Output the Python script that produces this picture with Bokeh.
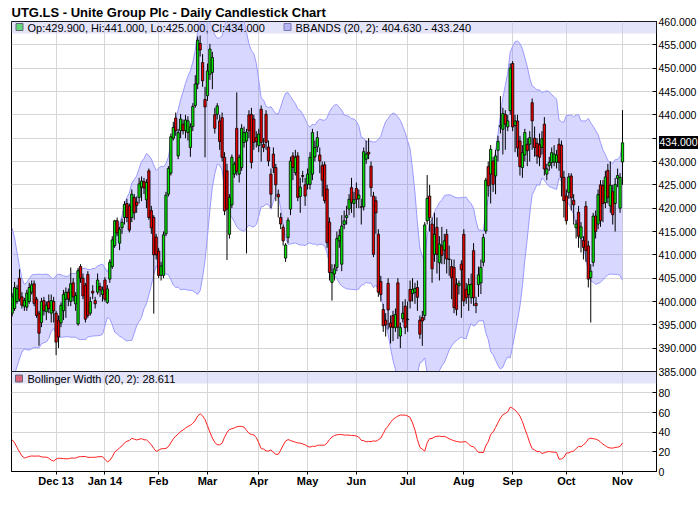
import numpy as np
from bokeh.plotting import figure
from bokeh.layouts import column
from bokeh.models import (Range1d, LinearAxis, FixedTicker, Grid, BoxAnnotation,
                          Label, ColumnDataSource, NumeralTickFormatter, Div)
from bokeh.embed import file_html
from bokeh.resources import INLINE

# ---------------- data ----------------
title_text = "UTG.LS - Unite Group Plc - Daily Candlestick Chart"
month_labels = ["Dec 13", "Jan 14", "Feb", "Mar", "Apr", "May", "Jun", "Jul", "Aug", "Sep", "Oct", "Nov"]
month_start = [0, 20, 42, 62, 83, 103, 123, 144, 167, 187, 209, 232]   # trading-day index
first_index = -18
price_ticks = [385, 390, 395, 400, 405, 410, 415, 420, 425, 430, 435, 440, 445, 450, 455, 460]
width_ticks = [0, 20, 40, 60, 80]
bb_period, bb_mult = 20, 2
bb_last_lower, bb_last_upper, bbw_last = 404.630, 433.240, 28.611

# closes of the 19 sessions before the first visible candle (feed the first bands)
prior_closes = [415, 417, 414, 411, 406, 399, 396, 393, 395, 397, 394, 392, 395, 397, 393, 391, 394, 397, 395]

opens = [
    # Nov 13
    397.5, 398.5, 400.0, 405.0, 401.0, 399.0, 398.8, 400.0, 402.0, 403.8, 400.5, 397.5, 395.5, 400.2, 397.8, 400.0, 397.5, 400.0,
    # Dec
    397.5, 396.0, 395.4, 398.0, 400.5, 402.0, 400.0, 404.0, 399.5, 395.2, 407.5, 405.0, 403.5, 405.8, 397.5, 402.2, 400.2, 402.0, 403.2, 401.5,
    # Jan
    404.6, 399.8, 404.8, 407.5, 412.0, 417.3, 412.5, 415.8, 418.0, 421.0, 420.5, 418.0, 422.3, 421.3, 422.3, 424.5, 425.7, 421.8, 428.0, 419.5, 418.0, 413.8,
    # Feb
    410.8, 405.6, 405.6, 414.5, 423.0, 427.5, 435.0, 439.3, 431.2, 436.6, 438.0, 436.6, 436.2, 433.0, 437.5, 442.0, 446.6, 455.3, 451.2, 443.3,
    # Mar
    444.1, 448.7, 449.1, 440.0, 440.1, 438.7, 439.4, 430.9, 428.0, 414.4, 420.7, 427.3, 437.1, 427.3, 428.7, 434.1, 434.4, 440.0, 440.1, 439.1, 435.1,
    # Apr
    433.4, 441.2, 433.7, 440.1, 433.1, 427.3, 431.6, 428.7, 423.0, 418.0, 415.9, 409.3, 413.7, 419.8, 431.2, 427.6, 431.2, 422.5, 427.0, 425.0,
    # May
    425.1, 425.1, 427.3, 431.0, 433.1, 431.4, 429.1, 429.3, 424.1, 417.0, 404.1, 405.9, 407.3, 413.0, 408.0, 416.5, 418.0, 419.8, 424.4, 421.0,
    # Jun
    424.2, 422.0, 420.3, 420.3, 430.5, 432.0, 429.0, 422.6, 421.6, 414.4, 404.3, 398.3, 396.0, 403.9, 395.4, 397.0, 394.4, 404.0, 392.6, 396.3, 399.0,
    # Jul
    396.2, 402.6, 401.7, 401.9, 403.0, 396.0, 396.6, 397.0, 417.3, 422.6, 416.6, 410.1, 415.9, 408.3, 411.9, 411.0, 414.4, 409.1, 407.5, 407.3, 403.7, 403.4, 408.0,
    # Aug
    414.4, 402.6, 401.5, 400.8, 410.9, 399.6, 403.6, 404.0, 408.4, 415.1, 428.9, 427.3, 430.1, 426.9, 432.4, 437.4, 436.9, 440.1, 437.4, 440.9,
    # Sep
    451.0, 437.7, 438.7, 434.4, 428.7, 431.4, 433.7, 433.7, 442.6, 435.0, 433.9, 433.6, 433.0, 438.0, 427.3, 429.1, 429.8, 429.9, 429.8, 433.7, 433.5, 426.6,
    # Oct
    422.6, 423.4, 426.9, 421.7, 415.8, 419.1, 413.6, 413.1, 420.4, 411.9, 405.1, 408.4, 418.3, 416.6, 425.0, 424.9, 421.2, 428.1, 420.5, 423.5, 421.0, 426.4, 420.0,
    # Nov
    429.9,
]
highs = [
    401.8, 404.2, 403.5, 406.9, 402.0, 400.8, 402.5, 404.0, 404.5, 404.5, 401.0, 398.0, 400.8, 401.0, 400.0, 401.5, 401.5, 401.0,
    398.0, 397.0, 399.8, 402.5, 403.0, 402.8, 407.3, 405.0, 402.0, 407.2, 408.0, 406.0, 404.0, 406.5, 401.0, 403.5, 401.0, 406.0, 404.0, 403.2,
    405.2, 403.5, 409.0, 414.0, 417.5, 418.0, 416.0, 417.8, 421.5, 422.0, 421.0, 424.0, 423.0, 422.5, 426.5, 426.8, 426.5, 426.2, 428.5, 420.5, 418.5, 414.5,
    411.5, 408.5, 415.0, 423.5, 429.0, 436.0, 438.5, 440.5, 437.0, 440.2, 439.0, 440.0, 439.7, 438.2, 442.5, 448.5, 456.8, 457.0, 453.0, 446.0,
    451.0, 455.2, 453.5, 441.5, 442.5, 440.0, 440.5, 432.0, 429.5, 423.0, 431.5, 430.0, 444.8, 431.5, 438.0, 437.5, 437.0, 441.0, 441.5, 440.0, 436.5,
    437.0, 442.0, 435.0, 441.0, 434.5, 428.5, 433.0, 429.5, 424.0, 419.0, 416.5, 412.5, 418.0, 431.0, 432.0, 432.5, 432.0, 426.5, 428.0, 426.5,
    428.5, 432.0, 437.0, 434.5, 436.5, 433.0, 430.0, 430.0, 425.0, 418.0, 408.0, 408.0, 415.0, 415.5, 418.5, 419.5, 420.5, 423.0, 426.5, 423.5,
    425.5, 424.0, 422.0, 433.0, 434.5, 435.0, 430.0, 423.5, 422.5, 415.5, 405.5, 399.5, 397.5, 405.0, 397.0, 398.0, 398.5, 405.0, 395.5, 400.0, 400.5,
    400.0, 404.5, 405.0, 404.0, 404.5, 397.0, 398.0, 417.0, 427.1, 425.0, 418.0, 419.0, 418.0, 414.0, 416.0, 414.5, 415.5, 412.0, 409.0, 409.0, 405.0, 404.5, 408.8,
    415.5, 404.0, 405.0, 406.0, 412.5, 401.0, 407.5, 409.0, 414.5, 426.5, 430.0, 433.5, 431.0, 432.5, 435.5, 444.0, 441.5, 441.0, 440.0, 451.0,
    451.5, 440.0, 440.0, 435.5, 433.5, 437.0, 435.0, 436.5, 443.5, 437.5, 435.0, 436.0, 436.5, 439.5, 429.5, 431.0, 433.0, 433.5, 432.5, 435.0, 434.5, 428.0,
    424.0, 427.5, 427.5, 423.0, 417.5, 420.5, 417.0, 414.0, 421.5, 413.0, 408.0, 419.0, 419.5, 424.0, 426.0, 426.0, 428.0, 429.5, 430.0, 425.0, 426.5, 428.5, 427.5,
    441.0,
]
lows = [
    396.8, 398.0, 399.5, 400.0, 398.5, 398.0, 398.0, 399.5, 401.5, 399.0, 396.5, 390.5, 394.5, 397.0, 396.0, 397.5, 395.5, 395.5,
    388.5, 390.0, 394.5, 396.0, 396.5, 399.0, 399.0, 400.0, 398.0, 394.8, 404.0, 400.5, 395.5, 396.5, 397.0, 400.5, 398.5, 401.5, 401.0, 400.0,
    400.0, 399.5, 404.0, 407.0, 411.5, 414.0, 411.0, 414.5, 416.5, 417.0, 414.8, 417.0, 417.5, 419.0, 421.0, 421.5, 423.0, 420.0, 417.5, 414.5, 397.4, 409.0,
    405.0, 404.5, 405.0, 414.0, 422.5, 427.0, 434.5, 435.5, 430.5, 435.0, 435.8, 435.0, 434.5, 431.0, 436.5, 441.5, 445.5, 452.5, 446.0, 430.9,
    443.0, 447.5, 445.5, 436.0, 439.0, 432.5, 430.0, 418.5, 408.9, 413.5, 420.0, 426.5, 427.0, 425.5, 428.0, 433.0, 410.3, 435.0, 428.5, 432.5, 433.0,
    432.0, 430.0, 432.0, 432.5, 429.0, 420.0, 427.5, 421.5, 418.0, 415.5, 412.0, 408.5, 412.5, 418.5, 426.0, 427.0, 421.5, 419.0, 425.5, 420.5,
    424.0, 424.0, 426.0, 430.0, 432.0, 427.5, 422.5, 421.0, 411.5, 404.5, 400.2, 404.5, 406.5, 411.5, 406.5, 415.5, 416.5, 418.5, 419.0, 418.0,
    420.0, 420.0, 416.5, 419.5, 429.5, 430.5, 422.5, 409.5, 414.5, 401.0, 400.0, 393.5, 392.5, 394.0, 391.0, 391.5, 393.5, 392.0, 390.0, 395.5, 393.0,
    393.5, 398.5, 400.0, 399.5, 398.0, 392.0, 390.5, 396.0, 416.5, 415.0, 404.0, 408.5, 406.0, 404.5, 408.0, 408.0, 406.0, 405.5, 400.5, 397.5, 397.0, 401.5, 396.5,
    399.0, 399.5, 398.0, 399.5, 399.0, 397.5, 401.0, 401.6, 407.5, 414.5, 422.5, 421.0, 423.5, 423.0, 430.0, 436.0, 431.5, 432.5, 436.5, 440.0,
    436.5, 432.0, 431.0, 427.0, 426.5, 430.0, 429.0, 430.0, 432.5, 431.0, 429.5, 429.0, 431.5, 427.0, 426.0, 428.0, 428.5, 429.0, 428.5, 428.0, 422.5, 418.0,
    416.5, 422.0, 419.5, 416.5, 413.5, 411.5, 410.5, 409.0, 408.5, 403.0, 395.5, 407.5, 413.5, 415.5, 416.0, 417.0, 420.0, 421.0, 419.0, 416.5, 415.0, 424.5, 419.0,
    425.0,
]
closes = [
    401.0, 403.0, 402.8, 400.5, 399.2, 400.2, 401.8, 403.0, 403.6, 399.6, 397.0, 393.2, 400.0, 398.0, 399.2, 398.5, 400.2, 398.0,
    391.3, 392.4, 399.2, 401.5, 402.0, 400.5, 403.8, 401.0, 401.3, 406.6, 405.0, 401.2, 396.2, 397.0, 400.0, 401.8, 399.5, 404.6, 402.5, 402.5,
    400.5, 402.7, 408.4, 413.2, 417.3, 414.7, 415.5, 417.0, 420.8, 418.0, 415.3, 423.0, 419.0, 420.6, 425.2, 425.8, 424.3, 425.5, 418.0, 415.8, 410.0, 410.0,
    405.6, 407.6, 414.3, 422.8, 428.5, 435.3, 437.3, 436.6, 436.2, 439.1, 436.6, 438.9, 438.7, 437.4, 441.8, 446.6, 456.0, 453.9, 447.3, 441.7,
    449.4, 454.1, 452.3, 437.1, 441.9, 434.3, 430.9, 419.4, 419.8, 422.3, 430.9, 429.4, 427.9, 430.9, 437.1, 436.2, 436.3, 436.6, 429.8, 434.1, 434.3,
    435.9, 434.1, 433.0, 434.1, 430.1, 423.0, 428.7, 425.0, 422.4, 416.6, 413.0, 412.1, 417.4, 430.1, 428.7, 430.9, 422.3, 424.5, 426.8, 422.6,
    427.3, 430.9, 436.2, 433.0, 435.1, 430.1, 426.0, 421.6, 412.6, 406.2, 406.2, 407.0, 413.5, 414.1, 416.2, 417.3, 418.4, 421.9, 421.2, 421.8,
    421.9, 422.8, 420.2, 432.1, 431.6, 431.6, 424.4, 410.1, 419.0, 402.0, 401.5, 394.8, 395.0, 398.2, 394.5, 394.4, 397.2, 394.5, 394.4, 397.5, 394.4,
    396.1, 400.1, 402.6, 402.8, 400.9, 393.0, 395.8, 416.4, 422.1, 418.0, 407.0, 414.4, 410.1, 412.3, 409.9, 413.0, 409.1, 409.0, 405.1, 398.7, 398.3, 403.9, 406.8,
    400.1, 400.8, 403.6, 403.7, 400.8, 399.1, 405.7, 407.3, 413.7, 426.0, 424.8, 432.6, 425.1, 431.2, 434.3, 437.7, 440.3, 438.0, 438.7, 450.0,
    437.4, 438.7, 432.9, 428.9, 431.9, 436.2, 432.3, 435.1, 438.7, 433.0, 431.2, 430.9, 434.9, 428.4, 428.4, 429.8, 431.9, 431.6, 431.4, 429.8, 426.6, 421.6,
    417.3, 426.7, 422.2, 420.7, 416.6, 414.0, 416.0, 411.6, 410.9, 404.8, 406.5, 418.3, 415.0, 422.9, 417.3, 421.0, 426.7, 422.3, 424.9, 418.6, 425.1, 427.0, 426.6,
    434.0,
]

# ---------------- derived series ----------------
n = len(closes)
idx = np.arange(first_index, first_index + n)
allc = np.array(prior_closes + closes, dtype=float)
upper, lower = [], []
for k in range(len(prior_closes), len(allc)):
    w = allc[k - bb_period + 1:k + 1]
    m, s = w.mean(), w.std()
    upper.append(m + bb_mult * s); lower.append(m - bb_mult * s)
upper = np.array(upper); lower = np.array(lower)
bbw = upper - lower

o = np.array(opens); c = np.array(closes)
GREEN, RED = "#00e600", "#ee0000"
src = ColumnDataSource(dict(
    x=idx, high=highs, low=lows,
    top=np.maximum(o, c), bottom=np.minimum(o, c),
    color=[GREEN if cc >= oo else RED for oo, cc in zip(opens, closes)],
))
band = ColumnDataSource(dict(x=idx, up=upper, lo=lower, w=bbw))

# ---------------- geometry (page pixels -> data) ----------------
FONT = "Liberation Sans"
LEFT, TOP = 11, 21              # frame origin on the page
FW, FH, FH2 = 645, 350, 100
X0, X1 = -18.27, 245.93
PPX = FW / (X1 - X0)
PY0, PY1 = 385, 460
PPY = FH / (PY1 - PY0)
W0, W1 = 0, 101.7
PPW = FH2 / (W1 - W0)
def sx(px): return X0 + (px - LEFT) / PPX
def sy(py): return PY1 - (py - TOP) / PPY
def sw(py): return W1 - (py - (TOP + FH)) / PPW

GRID = "#d6d6d6"
LAV = "#c8c8f6"
xr = Range1d(X0, X1)
OVER = 8   # main canvas spills this much under the lower panel (for the 385.000 label)

# ---------------- main panel ----------------
p = figure(frame_width=FW, frame_height=FH, x_range=xr, y_range=Range1d(PY0, PY1),
           output_backend="svg", toolbar_location=None, title=title_text,
           x_axis_location=None, y_axis_location=None,
           min_border_left=LEFT, min_border_right=44, min_border_top=TOP, min_border_bottom=OVER)
p.title.align = "left"
p.title.vertical_align = "top"
p.title.text_font = FONT
p.title.text_font_size = "13px"
p.title.text_font_style = "bold"
p.title.text_color = "black"
p.title.standoff = 0
p.title.offset = 0
p.xgrid.visible = False
p.ygrid.visible = False
p.outline_line_color = "black"
p.outline_line_width = 1
p.add_layout(Grid(dimension=0, ticker=FixedTicker(ticks=month_start), grid_line_color=GRID))
p.add_layout(Grid(dimension=1, ticker=FixedTicker(ticks=price_ticks), grid_line_color=GRID))

p.varea(x="x", y1="lo", y2="up", source=band, fill_color="#6060ff", fill_alpha=0.25)
p.line(x="x", y="up", source=band, line_color="#9a9aff", line_width=1)
p.line(x="x", y="lo", source=band, line_color="#9a9aff", line_width=1)
p.segment(x0="x", y0="low", x1="x", y1="high", source=src, line_color="black", line_width=1)
p.vbar(x="x", top="top", bottom="bottom", width=0.95, source=src,
       fill_color="color", line_color="black", line_width=0.8)

ax = LinearAxis(ticker=FixedTicker(ticks=price_ticks), formatter=NumeralTickFormatter(format="0.000"))
ax.major_label_overrides = {435: ""}
ax.major_tick_in = 4; ax.major_tick_out = 0
ax.minor_tick_in = 0; ax.minor_tick_out = 0
ax.major_label_standoff = 2
ax.axis_line_color = "black"; ax.major_tick_line_color = "black"
ax.major_label_text_font = FONT; ax.major_label_text_font_size = "10.5px"
ax.major_label_text_color = "black"
p.add_layout(ax, "right")

# legend band + texts
p.add_layout(BoxAnnotation(top=PY1, bottom=sy(33), fill_color=LAV, fill_alpha=0.5, line_color=None))
p.scatter(x=[sx(19)], y=[sy(26.5)], size=7, marker="square", fill_color=GREEN, line_color="black")
p.scatter(x=[sx(287)], y=[sy(26.5)], size=7, marker="square", fill_color="#a0a0f4", line_color="#303070")
ohlc_text = "Op:%.3f, Hi:%.3f, Lo:%.3f, Cl:%.3f" % (opens[-1], highs[-1], lows[-1], closes[-1])
bb_text = "BBANDS (%d, %d): %.3f - %.3f" % (bb_period, bb_mult, bb_last_lower, bb_last_upper)
for xx, t in [(sx(27), ohlc_text), (sx(295), bb_text)]:
    p.add_layout(Label(x=xx, y=sy(27), text=t, text_font=FONT, text_font_size="11px",
                       text_baseline="middle", text_align="left", text_color="black"))

# ---------------- last-close marker on the price axis ----------------
HL_TOP, HL_LEFT, HL_W, HL_H = 136, 659, 39, 13
hl = Div(text="%.3f" % closes[-1], width=HL_W, height=HL_H,
         styles={"background-color": "black", "color": "white", "font-family": FONT,
                 "font-size": "10.5px", "line-height": "%dpx" % HL_H, "text-align": "center",
                 "overflow": "hidden", "white-space": "nowrap"})
main_h = TOP + FH + OVER
hl.margin = (HL_TOP - main_h, 0, main_h - HL_TOP - HL_H, HL_LEFT)

# ---------------- lower panel ----------------
p2 = figure(frame_width=FW, frame_height=FH2, x_range=xr, y_range=Range1d(W0, W1),
            output_backend="svg", toolbar_location=None,
            x_axis_location=None, y_axis_location=None,
            min_border_left=LEFT, min_border_right=44, min_border_top=0, min_border_bottom=28)
p2.border_fill_color = None
p2.margin = (-OVER, 0, 0, 0)
p2.xgrid.visible = False
p2.ygrid.visible = False
p2.outline_line_color = "black"
p2.add_layout(Grid(dimension=0, ticker=FixedTicker(ticks=month_start), grid_line_color=GRID))
p2.add_layout(Grid(dimension=1, ticker=FixedTicker(ticks=width_ticks), grid_line_color=GRID))
p2.line(x="x", y="w", source=band, line_color="#ff2020", line_width=1)

ax2 = LinearAxis(ticker=FixedTicker(ticks=width_ticks))
ax2.major_tick_in = 4; ax2.major_tick_out = 0
ax2.minor_tick_in = 0; ax2.minor_tick_out = 0
ax2.major_label_standoff = 2
ax2.axis_line_color = "black"
ax2.major_label_text_font = FONT; ax2.major_label_text_font_size = "10.5px"
ax2.major_label_text_color = "black"
p2.add_layout(ax2, "right")

axb = LinearAxis(ticker=FixedTicker(ticks=month_start))
axb.major_label_overrides = {t: lab for t, lab in zip(month_start, month_labels)}
axb.major_tick_in = 0; axb.major_tick_out = 3
axb.minor_tick_in = 0; axb.minor_tick_out = 0
axb.major_label_standoff = 0
axb.axis_line_color = "black"
axb.major_label_text_font = FONT; axb.major_label_text_font_size = "11px"
axb.major_label_text_font_style = "bold"
axb.major_label_text_color = "black"
p2.add_layout(axb, "below")

p2.add_layout(BoxAnnotation(top=W1, bottom=sw(383), fill_color=LAV, fill_alpha=0.5, line_color=None))
p2.scatter(x=[sx(18.5)], y=[sw(378)], size=7, marker="square", fill_color=RED, line_color="black")
p2.add_layout(Label(x=sx(27), y=sw(378), text="Bollinger Width (%d, %d): %.3f" % (bb_period, bb_mult, bbw_last),
                    text_font=FONT, text_font_size="11px", text_baseline="middle",
                    text_align="left", text_color="black"))

layout = column(p, hl, p2, spacing=0)
open("out.html", "w").write(file_html(layout, INLINE))
